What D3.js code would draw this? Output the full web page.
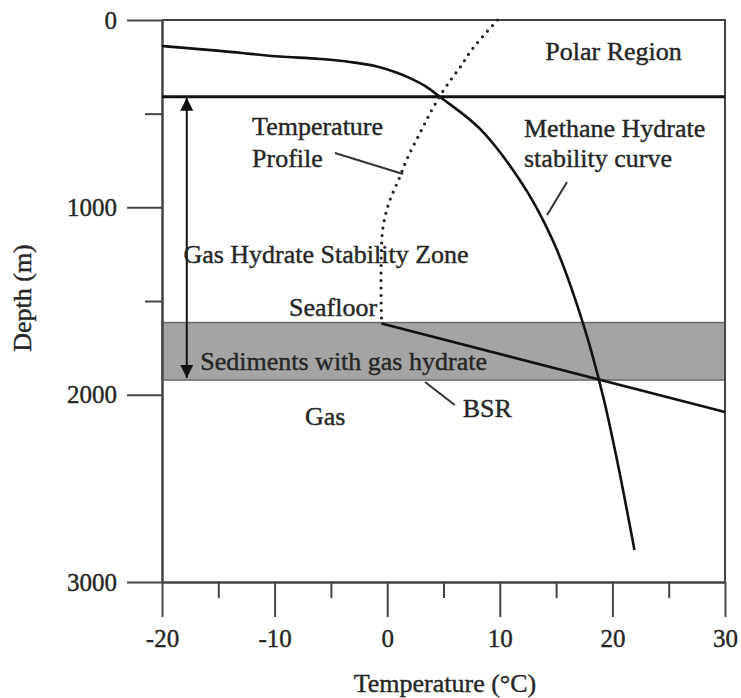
<!DOCTYPE html>
<html>
<head>
<meta charset="utf-8">
<script src="https://cdn.jsdelivr.net/npm/d3@7"></script>
<style>
  body { margin: 0; background: #fff; }
  svg { display: block; font-family: "Liberation Serif", "Times New Roman", serif; }
</style>
</head>
<body>
<svg width="741" height="698"></svg>
<script>
// temperature (deg C), depth (m)
var stabilityCurve = [
  [-20, 139], [-14.85, 165], [-9.52, 195], [-5.97, 208], [-3.3, 224], [-1.08, 246],
  [0.69, 278], [2.02, 310], [3.36, 352], [4.69, 411], [8.77, 614], [10.73, 763],
  [12.5, 923], [13.84, 1068], [15.08, 1228], [16.72, 1495], [18.1, 1762], [19.25, 2028],
  [20.41, 2349], [21.96, 2829]
];
var tempProfile = [
  [9.8, 0], [8.6, 80], [7.5, 160], [6.5, 250], [5.4, 340], [4.2, 455], [2.9, 605],
  [1.85, 730], [1.0, 855], [0.25, 960], [-0.3, 1080], [-0.5, 1200], [-0.55, 1400], [-0.5, 1620]
];
var bsrLine = [[-0.5, 1620], [30, 2093]];
var topOfZone = 410;
var hydrateBand = [1615, 1922];
var zoneArrow = { t: -17.8, top: 410, bottom: 1922 };

var xMajor = [-20, -10, 0, 10, 20, 30];
var xMinor = [-15, -5, 5, 15, 25];
var yMajor = [0, 1000, 2000, 3000];
var yMinor = [500, 1500];

var labels = [
  { text: 'Polar Region', t: 20.1, d: 215, anchor: 'middle' },
  { text: 'Temperature', t: -12, d: 614, anchor: 'start' },
  { text: 'Profile', t: -12, d: 785, anchor: 'start' },
  { text: 'Methane Hydrate', t: 12.15, d: 625, anchor: 'start' },
  { text: 'stability curve', t: 12.15, d: 785, anchor: 'start' },
  { text: 'Gas Hydrate Stability Zone', t: -18.1, d: 1297, anchor: 'start' },
  { text: 'Seafloor', t: -0.9, d: 1580, anchor: 'end' },
  { text: 'Sediments with gas hydrate', t: -16.6, d: 1868, anchor: 'start' },
  { text: 'BSR', t: 6.7, d: 2119, anchor: 'start' },
  { text: 'Gas', t: -7.3, d: 2162, anchor: 'start' }
];
var leaders = [
  [[-4.64, 710], [1.4, 822]],
  [[15.97, 865], [14.2, 1041]],
  [[3.36, 1932], [6.0, 2055]]
];

var svg = d3.select('svg');
var scaleX = d3.scaleLinear().domain([-20, 30]).range([162, 725]);
var scaleY = d3.scaleLinear().domain([0, 3000]).range([20, 582]);
var textColor = '#262626';

// shaded sediment band
svg.append('rect')
  .attr('x', scaleX(-20))
  .attr('y', scaleY(hydrateBand[0]))
  .attr('width', scaleX(30) - scaleX(-20))
  .attr('height', scaleY(hydrateBand[1]) - scaleY(hydrateBand[0]))
  .attr('fill', '#a4a4a4')
  .attr('stroke', '#6a6a6a')
  .attr('stroke-width', 1.5);

// frame top + right
svg.append('path')
  .attr('d', 'M' + scaleX(-20) + ',' + scaleY(0) + 'H' + scaleX(30) + 'V' + scaleY(3000))
  .attr('fill', 'none')
  .attr('stroke', '#444')
  .attr('stroke-width', 2);

// axes
function styleAxis(g) {
  g.selectAll('path, line').attr('stroke', '#444').attr('stroke-width', 2);
  g.selectAll('text').attr('font-size', 25).attr('fill', textColor)
    .attr('stroke', textColor).attr('stroke-width', 0.4)
    .attr('font-family', '"Liberation Serif", "Times New Roman", serif');
}
var plain = function(d){ return String(d); };
svg.append('g')
  .attr('transform', 'translate(' + scaleX(-20) + ',0)')
  .call(d3.axisLeft(scaleY).tickValues(yMinor).tickSize(17).tickSizeOuter(0).tickFormat(''))
  .call(styleAxis);
svg.append('g')
  .attr('transform', 'translate(' + scaleX(-20) + ',0)')
  .call(d3.axisLeft(scaleY).tickValues(yMajor).tickSize(35).tickSizeOuter(0).tickPadding(10).tickFormat(plain))
  .call(styleAxis);
svg.append('g')
  .attr('transform', 'translate(0,' + scaleY(3000) + ')')
  .call(d3.axisBottom(scaleX).tickValues(xMinor).tickSize(16).tickSizeOuter(0).tickFormat(''))
  .call(styleAxis);
svg.append('g')
  .attr('transform', 'translate(0,' + scaleY(3000) + ')')
  .call(d3.axisBottom(scaleX).tickValues(xMajor).tickSize(35).tickSizeOuter(0).tickPadding(12).tickFormat(plain))
  .call(styleAxis);

// top of stability zone
svg.append('line')
  .attr('x1', scaleX(-20)).attr('x2', scaleX(30))
  .attr('y1', scaleY(topOfZone)).attr('y2', scaleY(topOfZone))
  .attr('stroke', '#111').attr('stroke-width', 3);

// curves
var line = d3.line().x(function(d){ return scaleX(d[0]); }).y(function(d){ return scaleY(d[1]); });

svg.append('path')
  .datum(stabilityCurve)
  .attr('d', line.curve(d3.curveMonotoneX))
  .attr('fill', 'none').attr('stroke', '#111').attr('stroke-width', 2.6);

svg.append('path')
  .datum(tempProfile)
  .attr('d', line.curve(d3.curveMonotoneY))
  .attr('fill', 'none').attr('stroke', '#222').attr('stroke-width', 3.2)
  .attr('stroke-linecap', 'round').attr('stroke-dasharray', '0,7.5');

svg.append('path')
  .datum(bsrLine)
  .attr('d', line.curve(d3.curveLinear))
  .attr('fill', 'none').attr('stroke', '#111').attr('stroke-width', 2.6);

// double arrow
var defs = svg.append('defs');
defs.append('marker')
  .attr('id', 'head')
  .attr('viewBox', '0 0 10 10')
  .attr('refX', 10).attr('refY', 5)
  .attr('markerWidth', 7.5).attr('markerHeight', 6.5)
  .attr('markerUnits', 'strokeWidth')
  .attr('orient', 'auto-start-reverse')
  .append('path').attr('d', 'M0,0L10,5L0,10Z').attr('fill', '#111');

svg.append('line')
  .attr('x1', scaleX(zoneArrow.t)).attr('x2', scaleX(zoneArrow.t))
  .attr('y1', scaleY(zoneArrow.top) + 1).attr('y2', scaleY(zoneArrow.bottom) - 2)
  .attr('stroke', '#111').attr('stroke-width', 2)
  .attr('marker-start', 'url(#head)')
  .attr('marker-end', 'url(#head)');

// leader lines
svg.selectAll('.leader')
  .data(leaders)
  .enter()
  .append('line')
  .attr('class', 'leader')
  .attr('x1', function(d){ return scaleX(d[0][0]); })
  .attr('y1', function(d){ return scaleY(d[0][1]); })
  .attr('x2', function(d){ return scaleX(d[1][0]); })
  .attr('y2', function(d){ return scaleY(d[1][1]); })
  .attr('stroke', '#333').attr('stroke-width', 2);

// annotations
svg.selectAll('.note')
  .data(labels)
  .enter()
  .append('text')
  .attr('class', 'note')
  .attr('x', function(d){ return scaleX(d.t); })
  .attr('y', function(d){ return scaleY(d.d); })
  .attr('text-anchor', function(d){ return d.anchor; })
  .attr('font-size', 26)
  .attr('fill', textColor)
  .attr('stroke', textColor).attr('stroke-width', 0.4)
  .text(function(d){ return d.text; });

// axis titles
svg.append('text')
  .attr('x', 445)
  .attr('y', 692)
  .attr('text-anchor', 'middle')
  .attr('font-size', 26)
  .attr('fill', textColor)
  .attr('stroke', textColor).attr('stroke-width', 0.4)
  .text('Temperature (°C)');

svg.append('text')
  .attr('transform', 'translate(31,298) rotate(270)')
  .attr('text-anchor', 'middle')
  .attr('font-size', 26)
  .attr('fill', textColor)
  .attr('stroke', textColor).attr('stroke-width', 0.4)
  .text('Depth (m)');
</script>
</body>
</html>
